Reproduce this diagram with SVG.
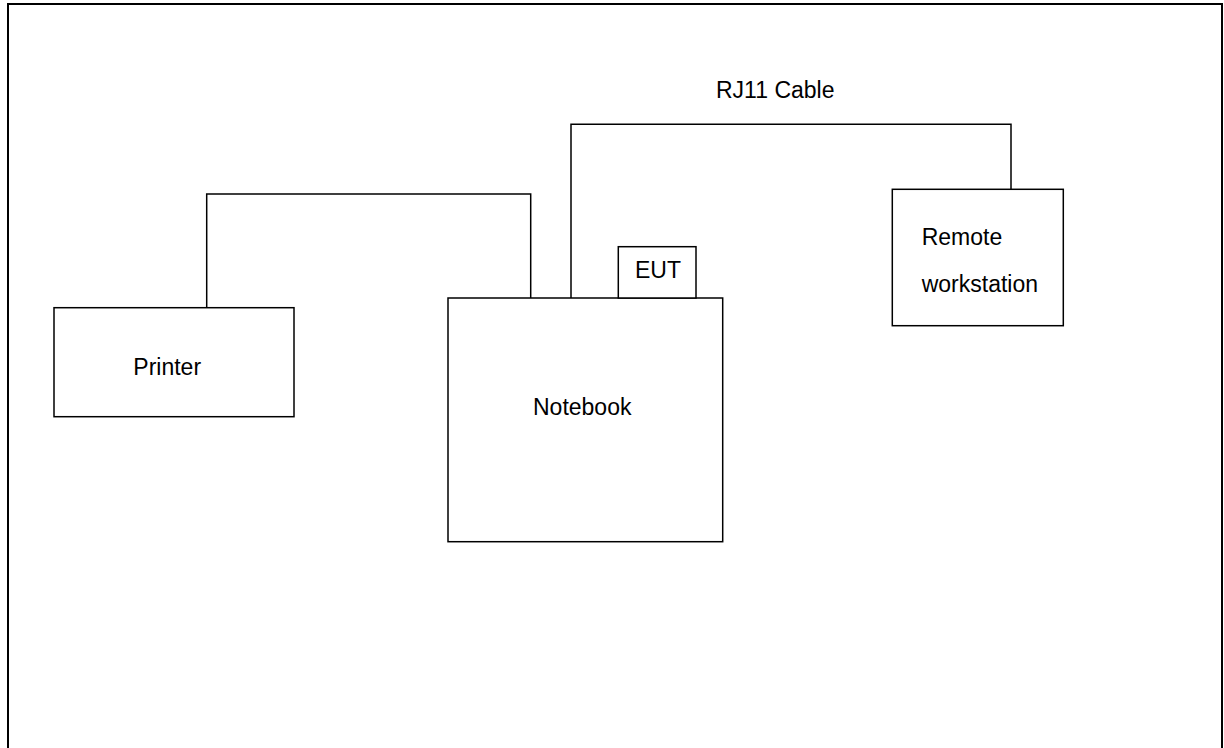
<svg xmlns="http://www.w3.org/2000/svg" width="1224" height="748" viewBox="0 0 1224 748">
<style>
.box{fill:#fff;stroke:#000;stroke-width:1.5}
.wire{fill:none;stroke:#000;stroke-width:1.5}
.lbl{font-family:"Liberation Sans",Arial,sans-serif;font-size:23px;fill:#000}
</style>
<rect x="0" y="0" width="1224" height="748" fill="#fff"/>
<rect id="frame" x="8" y="4" width="1214" height="760" fill="none" stroke="#000" stroke-width="2"/>
<g id="connectors">
<polyline class="wire" points="206.7,307.7 206.7,194 530.7,194 530.7,298"/>
<polyline class="wire" points="571,298 571,124.3 1011,124.3 1011,189.3"/>
</g>
<g id="printer">
<rect class="box" x="54" y="307.7" width="240" height="109"/>
<text class="lbl" x="133.3" y="375">Printer</text>
</g>
<g id="notebook">
<rect class="box" x="448" y="298" width="274.7" height="243.7"/>
<text class="lbl" x="533" y="415">Notebook</text>
</g>
<g id="eut">
<rect class="box" x="618.3" y="246.7" width="77.7" height="51.3"/>
<text class="lbl" x="635" y="278.3">EUT</text>
</g>
<g id="remote">
<rect class="box" x="892.3" y="189.3" width="171" height="136.4"/>
<text class="lbl" x="921.7" y="245">Remote</text>
<text class="lbl" x="921.7" y="291.7">workstation</text>
</g>
<g id="cable-label">
<text class="lbl" x="716" y="98.3">RJ11 Cable</text>
</g>
</svg>
